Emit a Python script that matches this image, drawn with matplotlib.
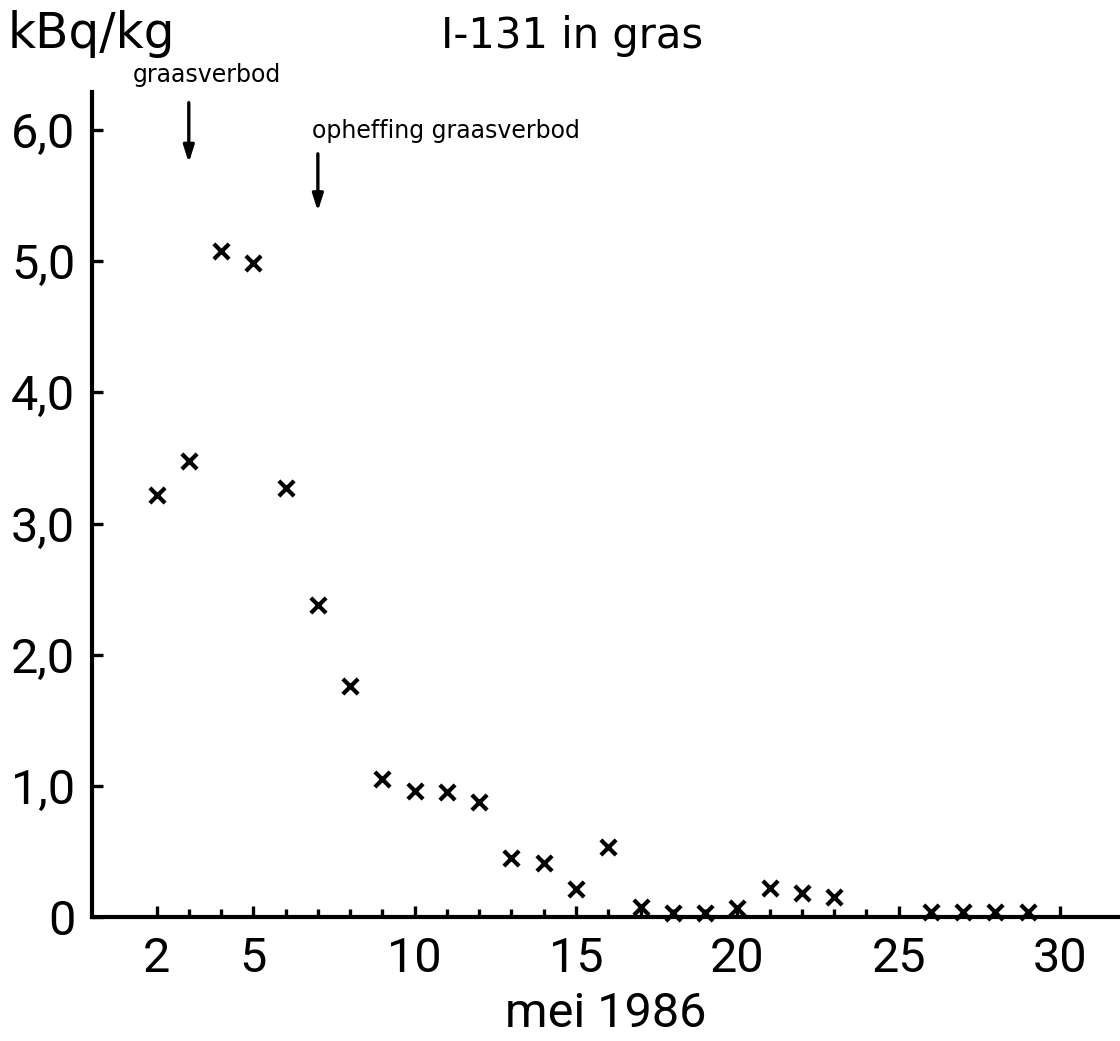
import matplotlib
matplotlib.use("Agg")
import matplotlib.pyplot as plt
from matplotlib.ticker import FixedLocator, FixedFormatter

# ---- data ----
days = [2, 3, 4, 5, 6, 7, 8, 9, 10, 11, 12, 13, 14, 15, 16, 17, 18, 19, 20,
        21, 22, 23, 26, 27, 28, 29]
values = [3.22, 3.48, 5.08, 4.99, 3.27, 2.38, 1.76, 1.05, 0.96, 0.95, 0.88,
          0.45, 0.41, 0.21, 0.53, 0.08, 0.03, 0.03, 0.07, 0.22, 0.18, 0.15,
          0.04, 0.04, 0.04, 0.04]
x_major = [2, 5, 10, 15, 20, 25, 30]
x_minor = list(range(2, 31))
y_ticks = [0, 1, 2, 3, 4, 5, 6]
y_labels = ["0", "1,0", "2,0", "3,0", "4,0", "5,0", "6,0"]
events = ["graasverbod", "opheffing graasverbod"]
event_days = [3, 7]

NUM = ["Roboto", "DejaVu Sans"]
SANS = ["DejaVu Sans"]

fig = plt.figure(figsize=(11.2, 10.41), dpi=100)
ax = fig.add_axes([92 / 1120, 1 - 917 / 1041, 1 - 92 / 1120, (917 - 92) / 1041])

ax.scatter(days, values, marker="x", s=120, linewidths=3.0, color="black",
           zorder=3, clip_on=False)

ax.set_xlim(0, 31.86)
ax.set_ylim(0, 6.29)

for s in ["top", "right"]:
    ax.spines[s].set_visible(False)
for s in ["left", "bottom"]:
    ax.spines[s].set_linewidth(3.0)

ax.xaxis.set_major_locator(FixedLocator(x_major))
ax.xaxis.set_minor_locator(FixedLocator([d for d in x_minor if d not in x_major]))
ax.yaxis.set_major_locator(FixedLocator(y_ticks))
ax.yaxis.set_major_formatter(FixedFormatter(y_labels))

ax.tick_params(axis="x", which="major", direction="in", length=8, width=2.4,
               pad=14, labelsize=35)
ax.tick_params(axis="x", which="minor", direction="in", length=6, width=2.4)
ax.tick_params(axis="y", which="major", direction="in", length=8, width=2.4,
               pad=12, labelsize=35)
for lab in ax.get_xticklabels() + ax.get_yticklabels():
    lab.set_family(NUM)

ax.set_xlabel("mei 1986", fontsize=35, family=NUM, labelpad=6)

fig.text(8 / 1120, 1 - 48 / 1041, "kBq/kg", fontsize=35, family=SANS,
         ha="left", va="baseline")
fig.text(572 / 1120, 1 - 48 / 1041, "I-131 in gras", fontsize=30, family=SANS,
         ha="center", va="baseline")

# event arrows
ax.annotate("", xy=(event_days[0], 5.73), xytext=(event_days[0], 6.23),
            arrowprops=dict(arrowstyle="-|>,head_length=1.0,head_width=0.32",
                            color="black", lw=2.4), annotation_clip=False)
ax.annotate("", xy=(event_days[1], 5.36), xytext=(event_days[1], 5.84),
            arrowprops=dict(arrowstyle="-|>,head_length=1.0,head_width=0.32",
                            color="black", lw=2.4), annotation_clip=False)
fig.text(133 / 1120, 1 - 82 / 1041, events[0], fontsize=17, family=SANS,
         ha="left", va="baseline")
fig.text(312 / 1120, 1 - 138 / 1041, events[1], fontsize=17, family=SANS,
         ha="left", va="baseline")

fig.savefig("out.png", dpi=100)
